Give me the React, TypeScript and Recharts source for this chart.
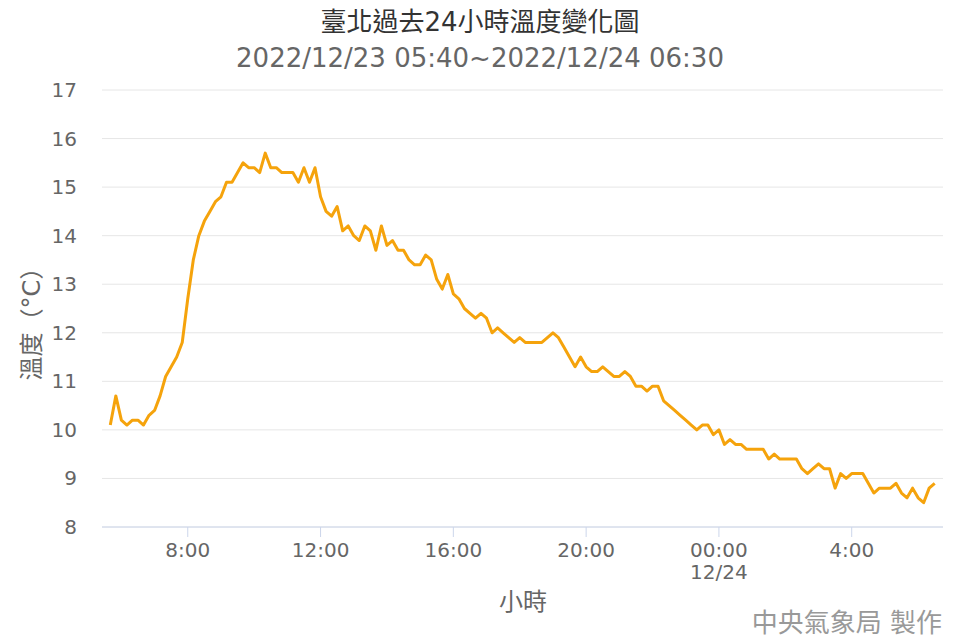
import { LineChart, Line, XAxis, YAxis, CartesianGrid } from "recharts";

// 10-minute readings, 2022/12/23 05:40 .. 2022/12/24 06:30
const temps = [
  10.1, 10.7, 10.2, 10.1, 10.2, 10.2, 10.1, 10.3, 10.4, 10.7,
  11.1, 11.3, 11.5, 11.8, 12.7, 13.5, 14.0, 14.3, 14.5, 14.7,
  14.8, 15.1, 15.1, 15.3, 15.5, 15.4, 15.4, 15.3, 15.7, 15.4,
  15.4, 15.3, 15.3, 15.3, 15.1, 15.4, 15.1, 15.4, 14.8, 14.5,
  14.4, 14.6, 14.1, 14.2, 14.0, 13.9, 14.2, 14.1, 13.7, 14.2,
  13.8, 13.9, 13.7, 13.7, 13.5, 13.4, 13.4, 13.6, 13.5, 13.1,
  12.9, 13.2, 12.8, 12.7, 12.5, 12.4, 12.3, 12.4, 12.3, 12.0,
  12.1, 12.0, 11.9, 11.8, 11.9, 11.8, 11.8, 11.8, 11.8, 11.9,
  12.0, 11.9, 11.7, 11.5, 11.3, 11.5, 11.3, 11.2, 11.2, 11.3,
  11.2, 11.1, 11.1, 11.2, 11.1, 10.9, 10.9, 10.8, 10.9, 10.9,
  10.6, 10.5, 10.4, 10.3, 10.2, 10.1, 10.0, 10.1, 10.1, 9.9,
  10.0, 9.7, 9.8, 9.7, 9.7, 9.6, 9.6, 9.6, 9.6, 9.4,
  9.5, 9.4, 9.4, 9.4, 9.4, 9.2, 9.1, 9.2, 9.3, 9.2,
  9.2, 8.8, 9.1, 9.0, 9.1, 9.1, 9.1, 8.9, 8.7, 8.8,
  8.8, 8.8, 8.9, 8.7, 8.6, 8.8, 8.6, 8.5, 8.8, 8.9,
];
const startMinute = 5 * 60 + 40;
const stepMinutes = 10;

const xTicks = [480, 720, 960, 1200, 1440, 1680];
const xTickLabels = ["8:00", "12:00", "16:00", "20:00", "00:00\n12/24", "4:00"];
const yTicks = [8, 9, 10, 11, 12, 13, 14, 15, 16, 17];

const title = "臺北過去24小時溫度變化圖";
const subtitle = "2022/12/23 05:40~2022/12/24 06:30";
const yTitle = "溫度（°C）";
const xTitle = "小時";
const credits = "中央氣象局 製作";

const data = temps.map((t, i) => ({ minute: startMinute + i * stepMinutes, temp: t }));

const FONT = '"DejaVu Sans", "Noto Sans CJK TC", sans-serif';

const XTick = (props: any) => {
  const { x, y, payload } = props;
  const idx = xTicks.indexOf(payload.value);
  const lines = (xTickLabels[idx] ?? "").split("\n");
  return (
    <text x={x} y={y} textAnchor="middle" fill="#666" fontSize={20} fontFamily={FONT}>
      {lines.map((l, i) => (
        <tspan key={i} x={x} dy={i === 0 ? "0.71em" : 22}>
          {l}
        </tspan>
      ))}
    </text>
  );
};

const YTick = (props: any) => {
  const { x, y, payload } = props;
  return (
    <text x={x} y={y} dy="0.35em" textAnchor="end" fill="#666" fontSize={20} fontFamily={FONT}>
      {payload.value}
    </text>
  );
};

export default function App() {
  return (
    <div style={{ position: "absolute", left: 0, top: 0, width: 960, height: 640, background: "#fff" }}>
      <LineChart
        width={960}
        height={640}
        data={data}
        margin={{ top: 90, right: 17, bottom: 53, left: 0 }}
      >
        <CartesianGrid vertical={false} stroke="#e6e6e6" />
        <XAxis
          type="number"
          dataKey="minute"
          domain={[325, 1845]}
          ticks={xTicks}
          interval={0}
          allowDataOverflow
          height={60}
          tickSize={10}
          tickMargin={6}
          axisLine={{ stroke: "#ccd6eb" }}
          tickLine={{ stroke: "#ccd6eb" }}
          tick={<XTick />}
        />
        <YAxis
          type="number"
          domain={[8, 17]}
          ticks={yTicks}
          interval={0}
          width={102}
          axisLine={false}
          tickLine={false}
          tickSize={0}
          tickMargin={25}
          tick={<YTick />}
        />
        <Line
          type="linear"
          dataKey="temp"
          stroke="#f5a30c"
          strokeWidth={3}
          strokeLinejoin="round"
          dot={false}
          activeDot={false}
          isAnimationActive={false}
        />
      </LineChart>
      <svg
        width={960}
        height={640}
        style={{ position: "absolute", left: 0, top: 0, pointerEvents: "none" }}
        fontFamily={FONT}
      >
        <text x={480} y={22} textAnchor="middle" dominantBaseline="central" fontSize={26} fill="#333">
          {title}
        </text>
        <text x={480} y={58} textAnchor="middle" dominantBaseline="central" fontSize={26} fill="#666">
          {subtitle}
        </text>
        <text
          x={32}
          y={318}
          textAnchor="middle"
          dominantBaseline="central"
          fontSize={24}
          fill="#666"
          transform="rotate(-90 32 318)"
        >
          {yTitle}
        </text>
        <text x={523} y={602} textAnchor="middle" dominantBaseline="central" fontSize={24} fill="#666">
          {xTitle}
        </text>
        <text x={942} y={623} textAnchor="end" dominantBaseline="central" fontSize={26} fill="#999">
          {credits}
        </text>
      </svg>
    </div>
  );
}
